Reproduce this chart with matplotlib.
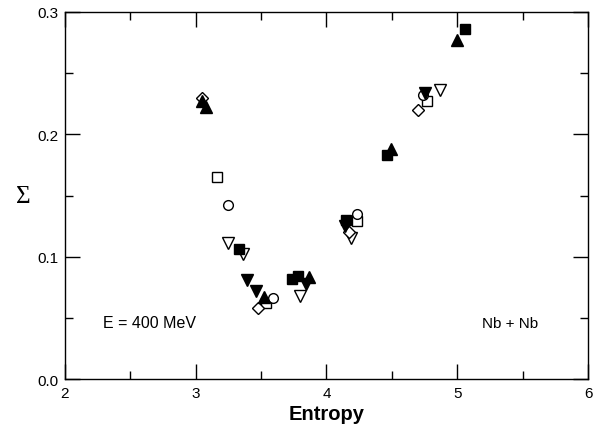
import matplotlib
matplotlib.use("Agg")
import matplotlib.pyplot as plt
from matplotlib.ticker import MultipleLocator

# Data (Entropy, Sigma) per marker series
fsq_x = [3.33, 3.74, 3.78, 4.15, 4.46, 5.06]
fsq_y = [0.106, 0.082, 0.084, 0.130, 0.183, 0.286]

ftu_x = [3.05, 3.08, 3.52, 3.87, 4.49, 5.00]
ftu_y = [0.227, 0.222, 0.067, 0.083, 0.188, 0.277]

ftd_x = [3.39, 3.46, 3.84, 4.14, 4.75]
ftd_y = [0.081, 0.072, 0.078, 0.125, 0.234]

osq_x = [3.16, 3.54, 4.23, 4.77]
osq_y = [0.165, 0.062, 0.129, 0.227]

oci_x = [3.25, 3.59, 4.23, 4.74]
oci_y = [0.142, 0.066, 0.135, 0.232]

otd_x = [3.25, 3.36, 3.80, 4.19, 4.87]
otd_y = [0.111, 0.102, 0.068, 0.115, 0.236]

odi_x = [3.05, 3.48, 4.17, 4.70]
odi_y = [0.230, 0.058, 0.120, 0.220]

xticks = [2, 3, 4, 5, 6]
yticks = [0.0, 0.1, 0.2, 0.3]

plt.rcParams['font.family'] = ['Liberation Sans', 'DejaVu Sans']

fig = plt.figure(figsize=(5.94, 4.27), dpi=100)
ax = fig.add_axes([0.1094, 0.110, 0.8805, 0.8596])

ms = 7
ax.plot(osq_x, osq_y, 's', ms=ms, mfc='white', mec='black', mew=1.0, ls='none')
ax.plot(oci_x, oci_y, 'o', ms=ms, mfc='white', mec='black', mew=1.0, ls='none')
ax.plot(otd_x, otd_y, 'v', ms=ms + 1, mfc='white', mec='black', mew=1.0, ls='none')
ax.plot(odi_x, odi_y, 'D', ms=ms - 1, mfc='white', mec='black', mew=1.0, ls='none')
ax.plot(fsq_x, fsq_y, 's', ms=ms, mfc='black', mec='black', ls='none')
ax.plot(ftu_x, ftu_y, '^', ms=ms + 1, mfc='black', mec='black', ls='none')
ax.plot(ftd_x, ftd_y, 'v', ms=ms + 1, mfc='black', mec='black', ls='none')

ax.set_xlim(2, 6)
ax.set_ylim(0, 0.3)
ax.set_xticks(xticks)
ax.set_xticklabels([str(v) for v in xticks])
ax.set_yticks(yticks)
ax.set_yticklabels([f"{v:.1f}" for v in yticks])
ax.xaxis.set_minor_locator(MultipleLocator(0.5))
ax.yaxis.set_minor_locator(MultipleLocator(0.05))
ax.tick_params(which='both', direction='in', top=True, right=True, labelsize=11)
ax.tick_params(which='major', length=11, width=1)
ax.tick_params(which='minor', length=6, width=1)
ax.tick_params(axis='x', pad=5)
ax.tick_params(axis='y', pad=5)

for s in ax.spines.values():
    s.set_linewidth(1.0)

ax.set_xlabel('Entropy', fontsize=14.5, fontweight='bold', labelpad=3)
ax.set_ylabel('Σ', fontsize=18, family=['Liberation Serif', 'DejaVu Serif'],
              rotation=0, labelpad=10, va='center')

ax.text(2.29, 0.046, 'E = 400 MeV', fontsize=11.5, va='center')
ax.text(5.62, 0.046, 'Nb + Nb', fontsize=11, va='center', ha='right')

fig.savefig('out.png', dpi=100)
